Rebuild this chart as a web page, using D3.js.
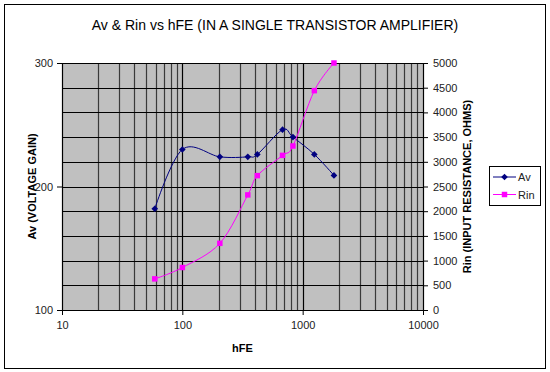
<!DOCTYPE html>
<html>
<head>
<meta charset="utf-8">
<script src="https://cdn.jsdelivr.net/npm/d3@7"></script>
<style>
  body { margin: 0; background: #fff; }
  svg { display: block; font-family: "Liberation Sans", Arial, sans-serif; }
</style>
</head>
<body>
<div id="chart"></div>
<script>
const hfe = [59, 100, 205, 350, 420, 680, 830, 1250, 1820];
const av = [182, 230, 224, 224, 226, 246, 240, 226, 209];
const rin = [630, 860, 1350, 2330, 2720, 3130, 3320, 4440, 5000];
const xTicks = [10, 100, 1000, 10000];
const avTicks = [100, 200, 300];
const rinTicks = [0, 500, 1000, 1500, 2000, 2500, 3000, 3500, 4000, 4500, 5000];

const width = 550,
  height = 372;
const plot = { left: 62, right: 423, top: 63, bottom: 310 };

const svg = d3
  .select("#chart")
  .append("svg")
  .attr("width", width)
  .attr("height", height);

// chart area border
svg
  .append("rect")
  .attr("x", 4.5)
  .attr("y", 4.5)
  .attr("width", 541)
  .attr("height", 364)
  .attr("fill", "#fff")
  .attr("stroke", "#000");

const x = d3.scaleLog().domain([10, 10000]).range([plot.left, plot.right]);
const yAv = d3.scaleLinear().domain([100, 300]).range([plot.bottom, plot.top]);
const yRin = d3.scaleLinear().domain([0, 5000]).range([plot.bottom, plot.top]);

// plot background
svg
  .append("rect")
  .attr("x", plot.left)
  .attr("y", plot.top)
  .attr("width", plot.right - plot.left)
  .attr("height", plot.bottom - plot.top)
  .attr("fill", "#c0c0c0");

// vertical gridlines (log minor + major)
svg
  .append("g")
  .selectAll("line")
  .data(x.ticks())
  .join("line")
  .attr("x1", (d) => Math.round(x(d)) + 0.5)
  .attr("x2", (d) => Math.round(x(d)) + 0.5)
  .attr("y1", plot.top)
  .attr("y2", plot.bottom)
  .attr("stroke", (d) => (xTicks.includes(d) ? "#000" : "#3a3a3a"))
  .attr("stroke-width", 1.2);

// horizontal gridlines from the Rin axis
svg
  .append("g")
  .selectAll("line")
  .data(rinTicks)
  .join("line")
  .attr("x1", plot.left)
  .attr("x2", plot.right)
  .attr("y1", (d) => Math.round(yRin(d)) + 0.5)
  .attr("y2", (d) => Math.round(yRin(d)) + 0.5)
  .attr("stroke", "#000")
  .attr("stroke-width", 1.2);

// axes
const styleAxis = (g) => {
  g.select(".domain").attr("stroke", "#000");
  g.selectAll(".tick line").attr("stroke", "#000");
  g.selectAll(".tick text")
    .attr("fill", "#222")
    .style("font-size", "11px")
    .style("font-family", '"Liberation Sans", Arial, sans-serif');
};

svg
  .append("g")
  .attr("transform", `translate(${plot.left},0)`)
  .call(d3.axisLeft(yAv).tickValues(avTicks).tickSize(5).tickPadding(4).tickFormat(d3.format("d")))
  .call(styleAxis);

svg
  .append("g")
  .attr("transform", `translate(${plot.right},0)`)
  .call(d3.axisRight(yRin).tickValues(rinTicks).tickSize(5).tickPadding(5).tickFormat(d3.format("d")))
  .call(styleAxis);

svg
  .append("g")
  .attr("transform", `translate(0,${plot.bottom})`)
  .call(d3.axisBottom(x).tickValues(xTicks).tickSize(5).tickPadding(6).tickFormat(d3.format("d")))
  .call(styleAxis);

// series
const curve = d3.curveCardinal.tension(0);

const avLine = d3
  .line()
  .x((d, i) => x(hfe[i]))
  .y((d) => yAv(d))
  .curve(curve);
const rinLine = d3
  .line()
  .x((d, i) => x(hfe[i]))
  .y((d) => yRin(d))
  .curve(curve);

svg.append("path").attr("d", avLine(av)).attr("fill", "none").attr("stroke", "#000080").attr("stroke-width", 1);
svg.append("path").attr("d", rinLine(rin)).attr("fill", "none").attr("stroke", "#ff00ff").attr("stroke-width", 1);

const diamond = d3.symbol(d3.symbolSquare, 22);
const square = d3.symbol(d3.symbolSquare, 30);

svg
  .append("g")
  .selectAll("path")
  .data(av)
  .join("path")
  .attr("d", diamond)
  .attr("transform", (d, i) => `translate(${x(hfe[i])},${yAv(d)}) rotate(45)`)
  .attr("fill", "#000080");

svg
  .append("g")
  .selectAll("path")
  .data(rin)
  .join("path")
  .attr("d", square)
  .attr("transform", (d, i) => `translate(${x(hfe[i])},${yRin(d)})`)
  .attr("fill", "#ff00ff");

// titles
svg
  .append("text")
  .attr("x", 275)
  .attr("y", 30)
  .attr("text-anchor", "middle")
  .style("font-size", "14px")
  .attr("fill", "#000")
  .text("Av & Rin vs hFE (IN A SINGLE TRANSISTOR AMPLIFIER)");

svg
  .append("text")
  .attr("x", (plot.left + plot.right) / 2)
  .attr("y", 352)
  .attr("text-anchor", "middle")
  .style("font-size", "11px")
  .style("font-weight", "bold")
  .text("hFE");

svg
  .append("text")
  .attr("transform", `translate(36,${(plot.top + plot.bottom) / 2}) rotate(-90)`)
  .attr("text-anchor", "middle")
  .style("font-size", "11px")
  .style("font-weight", "bold")
  .text("Av (VOLTAGE GAIN)");

svg
  .append("text")
  .attr("transform", `translate(471,${(plot.top + plot.bottom) / 2}) rotate(-90)`)
  .attr("text-anchor", "middle")
  .style("font-size", "11px")
  .style("font-weight", "bold")
  .text("Rin (INPUT RESISTANCE, OHMS)");

// legend
const legend = svg.append("g").attr("transform", "translate(489,166)");
legend
  .append("rect")
  .attr("x", 0.5)
  .attr("y", 0.5)
  .attr("width", 51)
  .attr("height", 39)
  .attr("fill", "#fff")
  .attr("stroke", "#000");

const entries = [
  { name: "Av", color: "#000080", sym: diamond, rot: 45 },
  { name: "Rin", color: "#ff00ff", sym: square, rot: 0 },
];
entries.forEach((e, i) => {
  const yy = 11 + i * 17.5;
  legend.append("line").attr("x1", 4).attr("x2", 27).attr("y1", yy).attr("y2", yy).attr("stroke", e.color);
  legend
    .append("path")
    .attr("d", e.sym)
    .attr("transform", `translate(15.5,${yy}) rotate(${e.rot})`)
    .attr("fill", e.color);
  legend
    .append("text")
    .attr("x", 29)
    .attr("y", yy + 4)
    .style("font-size", "11px")
    .attr("fill", "#222")
    .text(e.name);
});
</script>
</body>
</html>
